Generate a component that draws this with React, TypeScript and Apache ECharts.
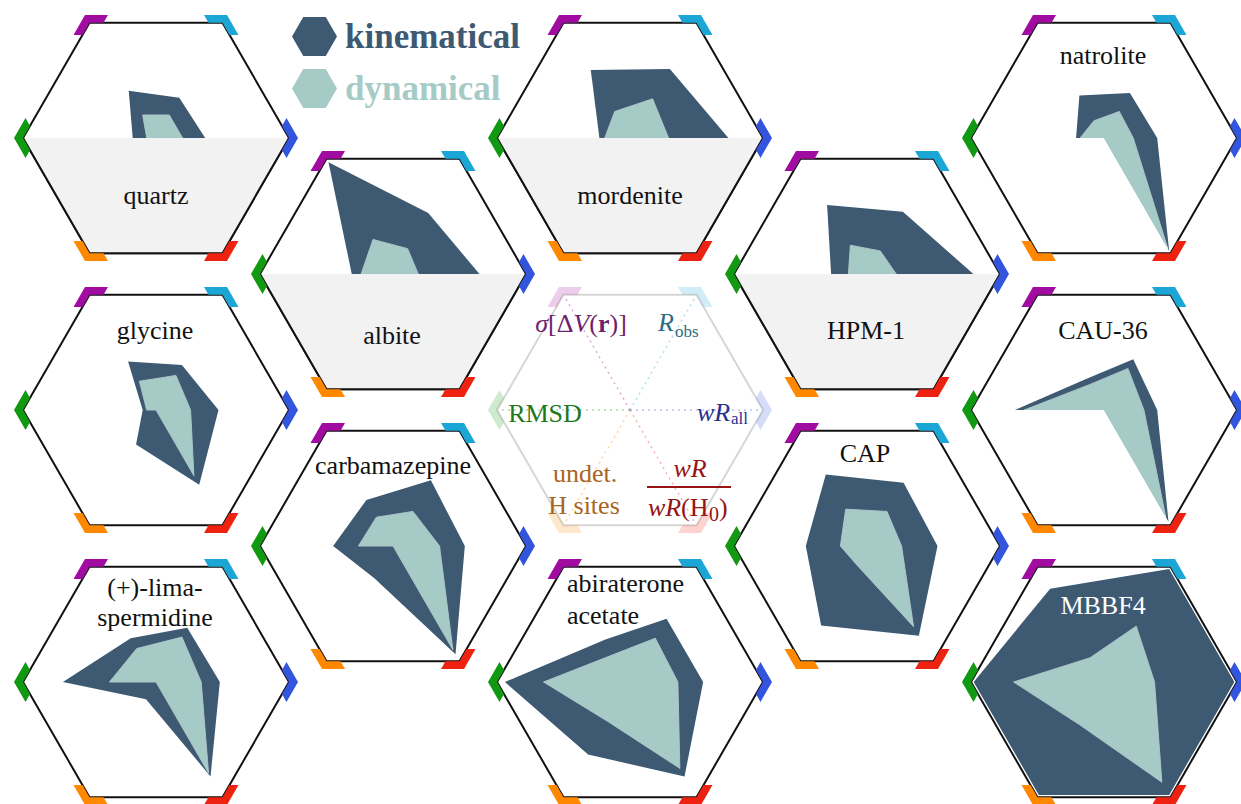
import React, { useEffect, useRef } from "react";
import * as echarts from "echarts";

// axis order (counter-clockwise from the right vertex)
const axes = ["wR_all", "R_obs", "σ[ΔV(r)]", "RMSD", "undet. H sites", "wR/wR(H0)"];

const structures = [
  "quartz", "albite", "mordenite", "HPM-1", "natrolite", "glycine",
  "CAU-36", "carbamazepine", "CAP", "(+)-lima-spermidine", "abiraterone acetate", "MBBF4",
];

// values: [wR_all, R_obs, σ, RMSD, undet. H, wR/wR(H0)] as fraction of the axis
// (lower-half values of the grey-banded structures are hidden in the figure)
const kinematical = [
  [0.37, 0.35, 0.41, 0.175, 0, 0],
  [0.65, 0.53, 0.97, 0.31, 0, 0],
  [0.74, 0.6, 0.59, 0.23, 0, 0],
  [0.8, 0.54, 0.6, 0.27, 0, 0],
  [0.4, 0.39, 0.37, 0.21, 0, 0.98],
  [0.47, 0.39, 0.42, 0.1, 0.3, 0.65],
  [0.4, 0.44, 0.27, 0.67, 0, 0.97],
  [0.54, 0.57, 0.4, 0.45, 0.28, 0.94],
  [0.53, 0.55, 0.62, 0.46, 0.69, 0.78],
  [0.48, 0.47, 0.38, 0.7, 0.15, 0.82],
  [0.55, 0.55, 0.37, 0.94, 0.63, 0.82],
  [0.98, 0.98, 0.81, 0.98, 0.98, 0.98],
];
const dynamical = [
  [0.2, 0.2, 0.2, 0.07, 0, 0],
  [0.19, 0.22, 0.3, 0.24, 0, 0],
  [0.29, 0.34, 0.23, 0.19, 0, 0],
  [0.22, 0.2, 0.25, 0.14, 0, 0],
  [0.22, 0.23, 0.15, 0.18, 0, 0.96],
  [0.26, 0.3, 0.25, 0.07, 0, 0.57],
  [0.3, 0.36, 0.22, 0.6, 0, 0.93],
  [0.35, 0.3, 0.25, 0.26, 0, 0.9],
  [0.26, 0.3, 0.32, 0.2, 0.16, 0.7],
  [0.34, 0.39, 0.29, 0.35, 0, 0.79],
  [0.36, 0.38, 0.24, 0.65, 0.34, 0.75],
  [0.38, 0.485, 0.21, 0.68, 0.37, 0.87],
];

// layout (column,row) in honeycomb
const cells = [
  [0, 0], [1, 1], [2, 0], [3, 1], [4, 0], [0, 2],
  [4, 2], [1, 3], [3, 3], [0, 4], [2, 4], [4, 4],
];
const greyLower = [true, true, true, true, false, false, false, false, false, false, false, false];
const legendCell = [2, 2];

const DARK = "#3e5a73";
const LIGHT = "#a6cbc6";
const FONT = "'Liberation Serif', 'Times New Roman', serif";
const R = 133;
const vertexColors = ["#3355dd", "#1ca6d6", "#a00ca0", "#119911", "#ff8800", "#ee2211"];

const cx = (c: number) => 156 + 237 * c;
const cy = (r: number) => 138 + 136 * r;

function vert(x: number, y: number, k: number, rad = R) {
  const a = (k * Math.PI) / 3;
  return [x + rad * Math.cos(a), y - rad * Math.sin(a)];
}

function marker(x: number, y: number, k: number, opacity: number) {
  const V = vert(x, y, k);
  const A = vert(x, y, k + 1);
  const B = vert(x, y, k - 1);
  const u = (P: number[]) => {
    const dx = P[0] - V[0], dy = P[1] - V[1];
    const l = Math.hypot(dx, dy);
    return [dx / l, dy / l];
  };
  const d1 = u(A), d2 = u(B);
  const L = 14, s = 9;
  const p = (a: number, b: number) => [V[0] + d1[0] * a + d2[0] * b, V[1] + d1[1] * a + d2[1] * b];
  return {
    type: "polygon",
    z: 40,
    silent: true,
    shape: { points: [p(L, 0), p(0, 0), p(0, L), p(-s, L), p(-s, -s), p(L, -s)] },
    style: { fill: vertexColors[k], opacity },
  };
}

function txt(text: string, x: number, y: number, opts: any = {}) {
  return {
    type: "text", z: 50, silent: true, x, y,
    style: {
      text,
      fill: opts.color || "#111",
      fontFamily: FONT,
      fontSize: opts.size || 26,
      fontStyle: opts.italic ? "italic" : "normal",
      fontWeight: opts.bold ? "bold" : "normal",
      align: opts.align || "center",
      verticalAlign: "middle",
      rich: opts.rich,
    },
  };
}

export default function App() {
  const ref = useRef<HTMLDivElement>(null);
  useEffect(() => {
    if (!ref.current) return;
    const chart = echarts.init(ref.current, null, { renderer: "svg" });

    const indicator = axes.map((n) => ({ name: n, min: 0, max: 1 }));
    const radarBase = (x: number, y: number, lineColor: string) => ({
      center: [x, y],
      radius: R,
      startAngle: 0,
      shape: "polygon",
      splitNumber: 1,
      indicator,
      axisName: { show: false },
      axisLine: { show: false },
      axisTick: { show: false },
      axisLabel: { show: false },
      splitArea: { show: false },
      splitLine: { lineStyle: { color: lineColor, width: 2 } },
    });

    const radars: any[] = cells.map(([c, r]) => radarBase(cx(c), cy(r), "#111"));
    radars.push(radarBase(cx(legendCell[0]), cy(legendCell[1]), "#d6d6d6"));

    const series = structures.map((name, i) => ({
      type: "radar",
      name,
      radarIndex: i,
      symbol: "none",
      silent: true,
      z: 2,
      data: [
        {
          name: "kinematical",
          value: kinematical[i],
          itemStyle: { color: DARK },
          lineStyle: { color: "#ffffff", width: 1 },
          areaStyle: { color: DARK, opacity: 1 },
        },
        {
          name: "dynamical",
          value: dynamical[i],
          itemStyle: { color: LIGHT },
          lineStyle: { color: "#ffffff", width: 0.6 },
          areaStyle: { color: LIGHT, opacity: 1 },
        },
      ],
    }));

    const graphics: any[] = [];
    // grey lower halves
    cells.forEach(([c, r], i) => {
      if (!greyLower[i]) return;
      const x = cx(c), y = cy(r);
      const pts = [vert(x, y, 0), vert(x, y, 5), vert(x, y, 4), vert(x, y, 3)];
      graphics.push({ type: "polygon", z: 20, silent: true, shape: { points: pts }, style: { fill: "#f2f2f2" } });
      graphics.push({ type: "polyline", z: 21, silent: true, shape: { points: pts }, style: { stroke: "#111", lineWidth: 2, fill: null } });
    });
    // vertex markers
    cells.forEach(([c, r]) => {
      for (let k = 0; k < 6; k++) graphics.push(marker(cx(c), cy(r), k, 1));
    });
    const lx = cx(legendCell[0]), ly = cy(legendCell[1]);
    for (let k = 0; k < 6; k++) {
      graphics.push(marker(lx, ly, k, 0.2));
      const V = vert(lx, ly, k, R - 4);
      graphics.push({
        type: "line", z: 22, silent: true,
        shape: { x1: lx, y1: ly, x2: V[0], y2: V[1] },
        style: { stroke: vertexColors[k], opacity: 0.35, lineWidth: 1.5, lineDash: [2, 4] },
      });
    }

    // structure labels
    graphics.push(txt("quartz", 156, 195));
    graphics.push(txt("albite", 392, 335));
    graphics.push(txt("mordenite", 630, 195));
    graphics.push(txt("HPM-1", 866, 330));
    graphics.push(txt("natrolite", 1103, 55));
    graphics.push(txt("glycine", 155, 330));
    graphics.push(txt("CAU-36", 1103, 330));
    graphics.push(txt("carbamazepine", 393, 465));
    graphics.push(txt("CAP", 865, 453));
    graphics.push(txt("(+)-lima-", 155, 587));
    graphics.push(txt("spermidine", 155, 617));
    graphics.push(txt("abiraterone", 567, 583, { align: "left" }));
    graphics.push(txt("acetate", 567, 615, { align: "left" }));
    graphics.push(txt("MBBF4", 1103, 605, { color: "#ffffff" }));

    // axis legend inside the central hexagon
    const PURPLE = "#6e1f70", TEAL = "#2a6e82", NAVY = "#28328c", GREEN = "#1e781e", RED = "#961414", BROWN = "#aa641e";
    graphics.push(
      txt("{i|σ}[Δ{i|V}({b|r})]", 581, 323, {
        color: PURPLE,
        rich: {
          i: { fontStyle: "italic", fontFamily: FONT, fontSize: 26, fill: PURPLE },
          b: { fontWeight: "bold", fontFamily: FONT, fontSize: 26, fill: PURPLE },
        },
      })
    );
    graphics.push(txt("R", 658, 322, { color: TEAL, italic: true, align: "left" }));
    graphics.push(txt("obs", 675, 331, { color: TEAL, size: 17, align: "left" }));
    graphics.push(txt("RMSD", 545, 413, { color: GREEN }));
    graphics.push(txt("wR", 697, 412, { color: NAVY, italic: true, align: "left" }));
    graphics.push(txt("all", 731, 418, { color: NAVY, size: 17, align: "left" }));
    graphics.push(txt("wR", 690, 468, { color: RED, italic: true }));
    graphics.push({ type: "line", z: 50, silent: true, shape: { x1: 647, y1: 487, x2: 731, y2: 487 }, style: { stroke: RED, lineWidth: 2 } });
    graphics.push(txt("wR", 648, 507, { color: RED, italic: true, align: "left" }));
    graphics.push(txt("(H", 681, 507, { color: RED, align: "left" }));
    graphics.push(txt("0", 709, 514, { color: RED, size: 20, align: "left" }));
    graphics.push(txt(")", 719, 507, { color: RED, align: "left" }));
    graphics.push(txt("undet.", 585, 473, { color: BROWN }));
    graphics.push(txt("H sites", 584, 505, { color: BROWN }));

    const hexIcon = "path://M0,0.866L0.5,0L1.5,0L2,0.866L1.5,1.732L0.5,1.732Z";

    chart.setOption({
      animation: false,
      backgroundColor: "#ffffff",
      legend: {
        show: true,
        orient: "vertical",
        left: 287,
        top: 12,
        itemWidth: 45,
        itemHeight: 39,
        itemGap: 13,
        icon: hexIcon,
        selectedMode: false,
        data: [
          { name: "kinematical", itemStyle: { color: DARK }, textStyle: { color: DARK } },
          { name: "dynamical", itemStyle: { color: LIGHT }, textStyle: { color: LIGHT } },
        ],
        textStyle: { fontFamily: FONT, fontWeight: "bold", fontSize: 35, padding: [0, 0, 0, 3] },
      },
      radar: radars,
      series,
      graphic: { elements: graphics },
    });
    return () => chart.dispose();
  }, []);
  return <div ref={ref} style={{ position: "fixed", left: 0, top: 0, width: 1241, height: 804 }} />;
}
